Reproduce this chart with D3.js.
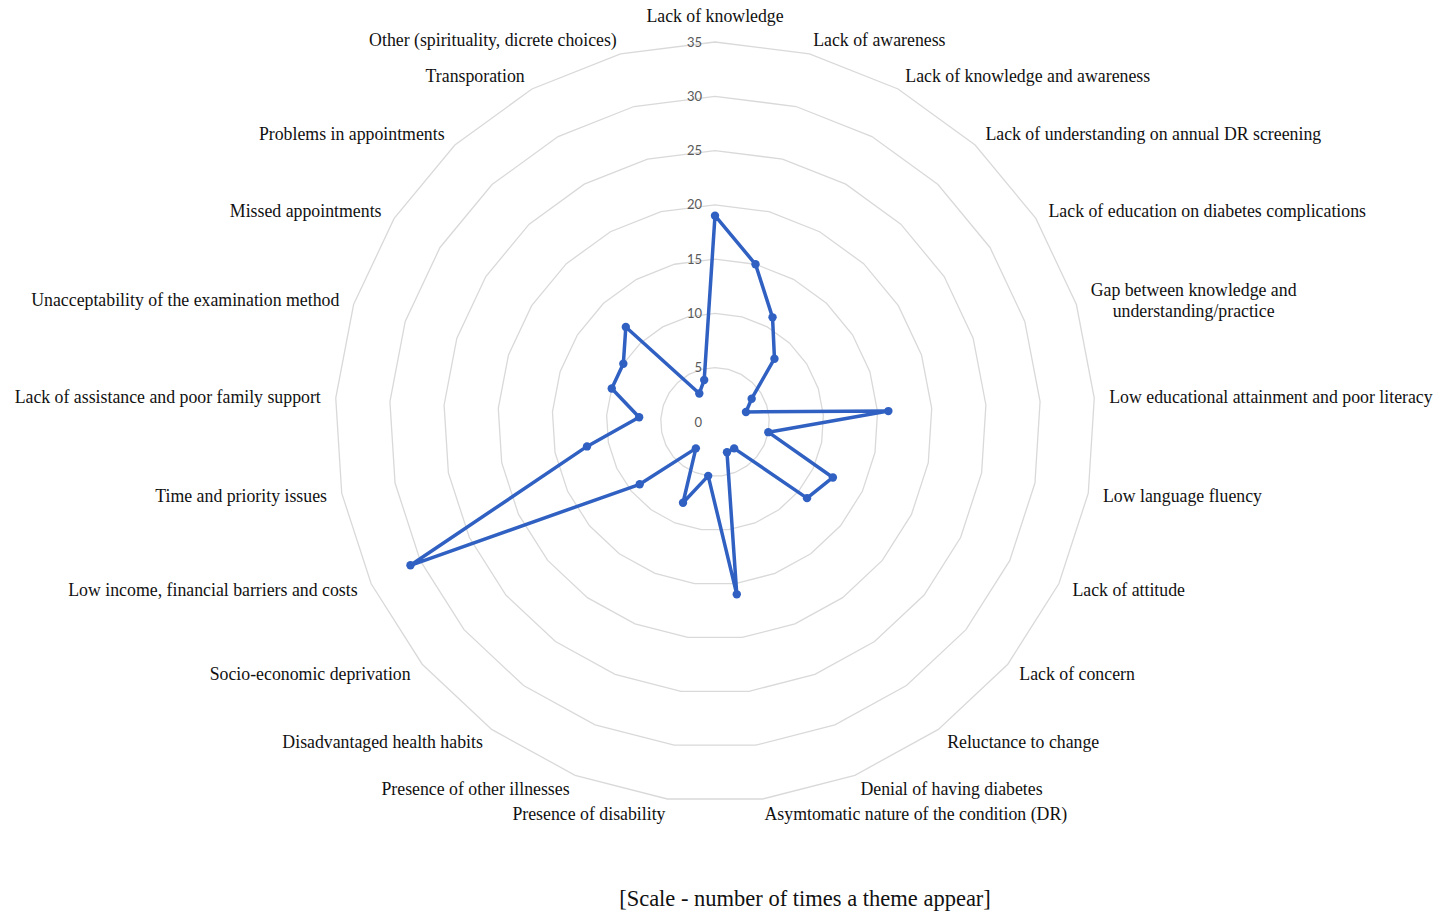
<!DOCTYPE html>
<html>
<head>
<meta charset="utf-8">
<script src="https://cdn.jsdelivr.net/npm/d3@7"></script>
<style>
  body { margin: 0; background: #fff; }
  .cat-label { font-family: "Liberation Serif", "Times New Roman", serif; font-size: 17.8px; fill: #111; }
  .tick-label { font-family: "Lato", "Open Sans", sans-serif; font-size: 13px; fill: #595959; }
  .caption { font-family: "Liberation Serif", "Times New Roman", serif; font-size: 22.5px; fill: #111; }
</style>
</head>
<body>
<svg width="1451" height="911"></svg>
<script>
const themes = [
  "Lack of knowledge",
  "Lack of awareness",
  "Lack of knowledge and awareness",
  "Lack of understanding on annual DR screening",
  "Lack of education on diabetes complications",
  "Gap between knowledge and\nunderstanding/practice",
  "Low educational attainment and poor literacy",
  "Low language fluency",
  "Lack of attitude",
  "Lack of concern",
  "Reluctance to change",
  "Denial of having diabetes",
  "Asymtomatic nature of the condition (DR)",
  "Presence of disability",
  "Presence of other illnesses",
  "Disadvantaged health habits",
  "Socio-economic deprivation",
  "Low income, financial barriers and costs",
  "Time and priority issues",
  "Lack of assistance and poor family support",
  "Unacceptability of the examination method",
  "Missed appointments",
  "Problems in appointments",
  "Transporation",
  "Other (spirituality, dicrete choices)"
];

const counts = [19, 15, 11, 8, 4, 3, 16, 5, 12, 11, 3, 3, 16, 5, 8, 3, 9, 31, 12, 7, 10, 10, 12, 3, 4];

const tickValues = [0, 5, 10, 15, 20, 25, 30, 35];

const captionText = "[Scale - number of times a theme appear]";

const svg = d3.select("svg");
const center = { x: 715, y: 422 };
const outerRadius = 380;

const r = d3.scaleLinear().domain([0, 35]).range([0, outerRadius]);
const angle = d3.scaleLinear().domain([0, themes.length]).range([0, 2 * Math.PI]);

const g = svg.append("g").attr("transform", `translate(${center.x},${center.y})`);

// grid rings
const ringLine = d3.lineRadial()
  .angle((d, i) => angle(i))
  .radius((d) => r(d))
  .curve(d3.curveLinearClosed);

g.selectAll(".ring")
  .data(tickValues.filter((t) => t > 0))
  .enter().append("path")
  .attr("class", "ring")
  .attr("d", (t) => ringLine(themes.map(() => t)))
  .attr("fill", "none")
  .attr("stroke", "#d9d9d9")
  .attr("stroke-width", 1.3);

// value labels on the vertical axis
g.selectAll(".tick-label")
  .data(tickValues)
  .enter().append("text")
  .attr("class", "tick-label")
  .attr("x", -13)
  .attr("y", (t) => -r(t))
  .attr("dy", "0.35em")
  .attr("text-anchor", "end")
  .text((t) => t);

// series
const seriesLine = d3.lineRadial()
  .angle((d, i) => angle(i))
  .radius((d) => r(d))
  .curve(d3.curveLinearClosed);

g.append("path")
  .attr("d", seriesLine(counts))
  .attr("fill", "none")
  .attr("stroke", "#3061c2")
  .attr("stroke-width", 3.5)
  .attr("stroke-linejoin", "round");

const pointPos = (v, i) => [r(v) * Math.sin(angle(i)), -r(v) * Math.cos(angle(i))];

g.selectAll(".marker")
  .data(counts)
  .enter().append("circle")
  .attr("class", "marker")
  .attr("cx", (d, i) => pointPos(d, i)[0])
  .attr("cy", (d, i) => pointPos(d, i)[1])
  .attr("r", 4.2)
  .attr("fill", "#3061c2");

// category labels
const labelRadius = outerRadius + 15;
themes.forEach((name, i) => {
  const a = angle(i);
  const sx = Math.sin(a);
  const x = labelRadius * sx;
  let y = -labelRadius * Math.cos(a);
  const anchor = Math.abs(sx) < 0.01 ? "middle" : (sx > 0 ? "start" : "end");
  if (anchor === "middle") y -= 11;
  const lines = name.split("\n");
  const text = g.append("text")
    .attr("class", "cat-label")
    .attr("text-anchor", lines.length > 1 ? "middle" : anchor)
    .attr("x", x)
    .attr("y", y);
  if (lines.length === 1) {
    text.attr("dy", "0.35em").text(name);
  } else {
    const lineH = 21;
    const tspans = text.selectAll("tspan")
      .data(lines)
      .enter().append("tspan")
      .attr("y", (d, k) => y + (k - (lines.length - 1) / 2) * lineH)
      .attr("dy", "0.35em")
      .text((d) => d);
    let maxW = 0;
    tspans.each(function () { maxW = Math.max(maxW, this.getComputedTextLength()); });
    const cxText = anchor === "start" ? x + maxW / 2 : x - maxW / 2;
    tspans.attr("x", cxText);
  }
});

svg.append("text")
  .attr("class", "caption")
  .attr("x", 805)
  .attr("y", 898)
  .attr("dy", "0.35em")
  .attr("text-anchor", "middle")
  .text(captionText);
</script>
</body>
</html>
